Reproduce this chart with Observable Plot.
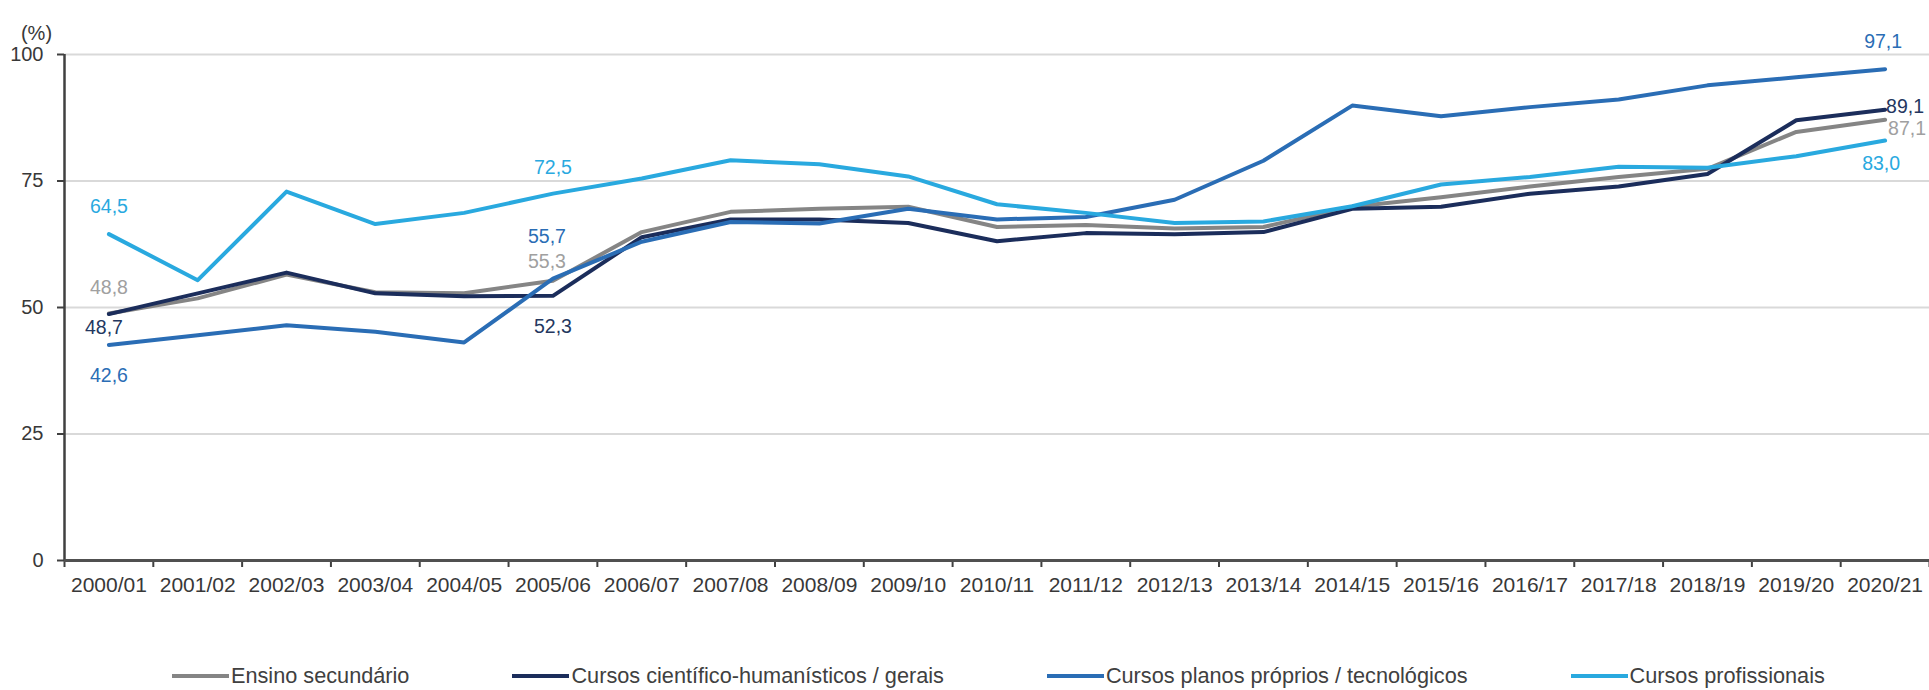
<!DOCTYPE html>
<html>
<head>
<meta charset="utf-8">
<script src="https://cdn.jsdelivr.net/npm/d3@7"></script>
<script src="https://cdn.jsdelivr.net/npm/@observablehq/plot@0.6"></script>
<style>
  html, body { margin: 0; padding: 0; background: #fff; }
  body { font-family: "Liberation Sans", Arial, sans-serif; position: relative; width: 1929px; height: 690px; overflow: hidden; }
  #chart { position: absolute; left: 0; top: 0; }
  #legend { position: absolute; left: 172px; top: 663px; display: flex; align-items: center; font-size: 21.7px; color: #404040; white-space: nowrap; }
  .item { display: flex; align-items: center; margin-right: 103px; }
  .sw { width: 57px; height: 4px; margin-right: 2px; }
</style>
</head>
<body>
<div id="chart"></div>
<div id="legend"></div>
<script>
const years = ["2000/01","2001/02","2002/03","2003/04","2004/05","2005/06","2006/07","2007/08","2008/09","2009/10","2010/11","2011/12","2012/13","2013/14","2014/15","2015/16","2016/17","2017/18","2018/19","2019/20","2020/21"];
const seriesNames = ["Ensino secundário","Cursos científico-humanísticos / gerais","Cursos planos próprios / tecnológicos","Cursos profissionais"];
const seriesColors = ["#858585","#1b2d5b","#2a6db5","#29a9df"];
const labelColors = ["#a0a0a0","#24375f","#2a6db5","#29a9df"];
const ensinoSecundario = [48.8,51.8,56.5,53.0,52.8,55.3,64.9,68.9,69.5,69.9,65.9,66.3,65.6,65.9,69.9,71.8,73.9,75.8,77.4,84.7,87.1];
const cientificoHumanisticos = [48.7,52.8,56.9,52.8,52.2,52.3,63.9,67.4,67.4,66.7,63.1,64.7,64.5,64.9,69.5,69.9,72.5,73.9,76.4,87.0,89.1];
const planosProprios = [42.6,44.5,46.5,45.2,43.1,55.7,63.0,66.9,66.6,69.5,67.4,67.9,71.3,79.0,89.9,87.8,89.6,91.1,93.9,95.5,97.1];
const profissionais = [64.5,55.4,72.9,66.5,68.7,72.5,75.5,79.1,78.3,75.9,70.4,68.7,66.7,67.0,70.0,74.3,75.8,77.8,77.6,79.9,83.0];
const yTicks = [0,25,50,75,100];

const seriesValues = [ensinoSecundario, cientificoHumanisticos, planosProprios, profissionais];
const rows = [];
seriesNames.forEach((s, i) => seriesValues[i].forEach((v, k) => rows.push({series: s, si: i, k, value: v})));
const fmt = v => v.toFixed(1).replace(".", ",");
const pick = (si, k) => rows.filter(d => d.si === si && d.k === k);
const lbl = (si, k, opts) => Plot.text(pick(si, k), {
  x: "k", y: "value", text: d => fmt(d.value), fill: labelColors[si],
  fontSize: 19.5, ...opts
});

const chart = Plot.plot({
  width: 1929,
  height: 612,
  marginLeft: 64,
  marginRight: 0,
  marginTop: 54,
  marginBottom: 52,
  style: {fontFamily: "'Liberation Sans', Arial, sans-serif", background: "#fff"},
  x: {type: "linear", domain: [-0.5, years.length - 0.5]},
  y: {domain: [0, 100]},
  color: {domain: seriesNames, range: seriesColors},
  marks: [
    Plot.gridY(yTicks.filter(t => t > 0), {stroke: "#d9d9d9", strokeOpacity: 1, strokeWidth: 2}),
    Plot.axisY(yTicks, {tickSize: 7, tickPadding: 14, fontSize: 20, fill: "#383838", stroke: "#404040", strokeWidth: 2, label: null}),
    Plot.axisX(d3.range(years.length), {tickSize: 0, tickPadding: 17, fontSize: 21, fill: "#383838", tickFormat: i => years[i], label: null}),
    Plot.axisX(d3.range(-0.5, years.length, 1), {tickSize: 7, tickFormat: () => "", stroke: "#404040", strokeWidth: 2, label: null}),
    Plot.ruleX([-0.5], {stroke: "#404040", strokeWidth: 2.5}),
    Plot.ruleY([0], {stroke: "#505050", strokeWidth: 3}),
    Plot.text(["(%)"], {frameAnchor: "top-left", dx: -28, dy: -29, fontSize: 20, fill: "#383838", textAnchor: "middle"}),
    Plot.line(rows, {x: "k", y: "value", z: "series", stroke: "series", strokeWidth: 4, strokeLinejoin: "round"}),
    // labels at 2000/01
    lbl(3, 0, {dy: -27}),
    lbl(0, 0, {dy: -26}),
    lbl(1, 0, {dy: 14, dx: -5}),
    lbl(2, 0, {dy: 31}),
    // labels at 2005/06
    lbl(3, 5, {dy: -26}),
    lbl(2, 5, {dy: -42, dx: -6}),
    lbl(0, 5, {dy: -19, dx: -6}),
    lbl(1, 5, {dy: 31}),
    // labels at 2020/21
    lbl(2, 20, {dy: -27, dx: -2}),
    lbl(1, 20, {dy: -3, dx: 1, textAnchor: "start"}),
    lbl(0, 20, {dy: 9, dx: 3, textAnchor: "start"}),
    lbl(3, 20, {dy: 23, dx: -4})
  ]
});
document.getElementById("chart").appendChild(chart);

const legend = d3.select("#legend");
seriesNames.forEach((s, i) => {
  const item = legend.append("div").attr("class", "item");
  item.append("div").attr("class", "sw").style("background", seriesColors[i]);
  item.append("span").text(s);
});
</script>
</body>
</html>
